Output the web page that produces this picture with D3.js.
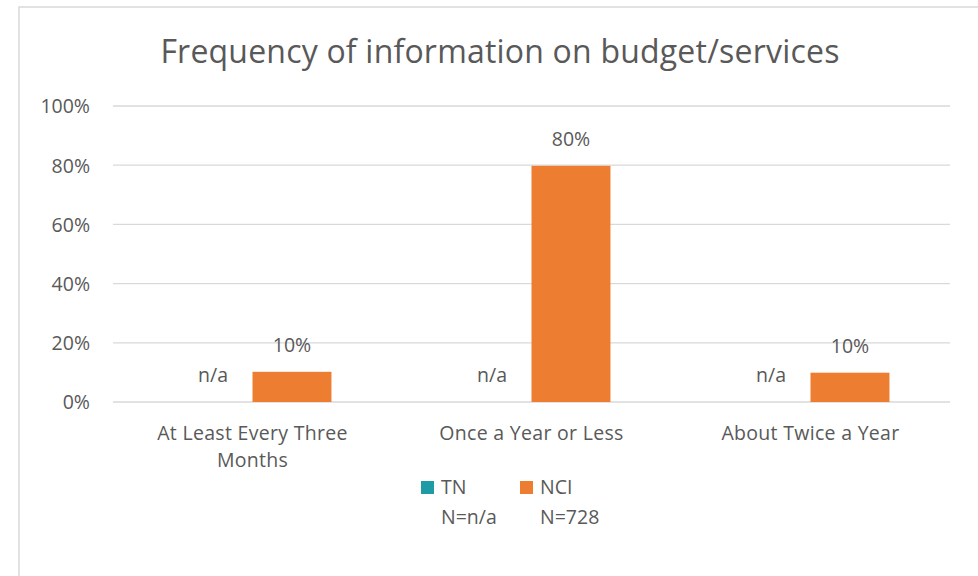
<!DOCTYPE html>
<html>
<head>
<meta charset="utf-8">
<script src="https://cdn.jsdelivr.net/npm/d3@7"></script>
<style>
  body { margin: 0; background: #fff; }
  svg text { font-family: "Open Sans", Lato, sans-serif; fill: #595959; }
</style>
</head>
<body>
<div class="chart"></div>
<script>
// data
const categories = ["At Least Every Three Months", "Once a Year or Less", "About Twice a Year"];
const seriesNames = ["TN", "NCI"];
const seriesN = ["N=n/a", "N=728"];
const tnValues = [null, null, null];          // no data -> "n/a"
const nciValues = [0.102, 0.798, 0.099];
const yTicks = [0, 0.2, 0.4, 0.6, 0.8, 1.0];
const colors = ["#1f9ba6", "#ed7d31"];

const width = 978, height = 576;
const margin = { top: 106, right: 28, bottom: 174, left: 113 };
const fs = "19.5px";
const ls = "0.3px";

const svg = d3.select(".chart").append("svg")
  .attr("width", width)
  .attr("height", height);

// chart area border
svg.append("rect")
  .attr("x", 19).attr("y", 7)
  .attr("width", 1000).attr("height", 600)
  .attr("fill", "none")
  .attr("stroke", "#d9d9d9")
  .attr("stroke-width", 1.5);

svg.append("text")
  .attr("x", 500).attr("y", 63)
  .attr("text-anchor", "middle")
  .style("font-size", "32px")
  .style("letter-spacing", "0.2px")
  .text("Frequency of information on budget/services");

const x = d3.scaleBand()
  .domain(categories)
  .range([margin.left, width - margin.right]);

const y = d3.scaleLinear()
  .domain([0, 1])
  .range([402, margin.top]);

// gridlines
svg.append("g")
  .selectAll("line")
  .data(yTicks)
  .join("line")
  .attr("x1", margin.left).attr("x2", width - margin.right)
  .attr("y1", d => y(d)).attr("y2", d => y(d))
  .attr("stroke", "#d9d9d9")
  .attr("stroke-width", 1.3);

// y axis labels
const yAxis = svg.append("g")
  .attr("transform", `translate(${margin.left - 23},0)`)
  .call(d3.axisLeft(y).tickValues(yTicks).tickFormat(d3.format(".0%")).tickSize(0).tickPadding(0));
yAxis.select(".domain").remove();
yAxis.selectAll("text")
  .attr("dy", "0.35em")
  .style("font-size", fs)
  .style("font-family", "'Open Sans', sans-serif")
  .attr("fill", "#595959");

// bars: group occupies ~57% of band, split in two
const inner = d3.scaleBand()
  .domain(seriesNames)
  .range([0, x.bandwidth() * 0.566])
  .padding(0);
const groupOffset = (x.bandwidth() - inner.range()[1]) / 2;

const rows = categories.map((c, i) => ({ cat: c, vals: [tnValues[i], nciValues[i]] }));

const groups = svg.append("g")
  .selectAll("g")
  .data(rows)
  .join("g")
  .attr("transform", d => `translate(${x(d.cat) + groupOffset},0)`);

groups.selectAll("rect")
  .data(d => d.vals.map((v, j) => ({ v, s: seriesNames[j], j })))
  .join("rect")
  .attr("x", d => inner(d.s))
  .attr("width", inner.bandwidth())
  .attr("y", d => y(d.v || 0))
  .attr("height", d => y(0) - y(d.v || 0))
  .attr("fill", d => colors[d.j]);

groups.selectAll("text.lbl")
  .data(d => d.vals.map((v, j) => ({ v, s: seriesNames[j], j })))
  .join("text")
  .attr("class", "lbl")
  .attr("x", d => inner(d.s) + inner.bandwidth() / 2)
  .attr("y", d => y(d.v || 0) - 20)
  .attr("text-anchor", "middle")
  .style("font-size", fs)
  .text(d => d.v == null ? "n/a" : d3.format(".0%")(d.v));

// category labels with wrapping
const catWrap = {
  "At Least Every Three Months": ["At Least Every Three", "Months"]
};
svg.append("g")
  .selectAll("text")
  .data(categories)
  .join("text")
  .attr("x", d => x(d) + x.bandwidth() / 2)
  .attr("y", 440)
  .attr("text-anchor", "middle")
  .style("font-size", fs)
  .style("letter-spacing", ls)
  .each(function(d) {
    const lines = catWrap[d] || [d];
    d3.select(this).selectAll("tspan")
      .data(lines)
      .join("tspan")
      .attr("x", x(d) + x.bandwidth() / 2)
      .attr("dy", (l, i) => i === 0 ? 0 : 27)
      .text(l => l);
  });

// legend
const legend = svg.append("g")
  .selectAll("g")
  .data(seriesNames)
  .join("g")
  .attr("transform", (d, i) => `translate(${421 + i * 99},481)`);
legend.append("rect")
  .attr("width", 13).attr("height", 13)
  .attr("fill", (d, i) => colors[i]);
legend.append("text")
  .attr("x", 20).attr("y", 12.5)
  .style("font-size", fs)
  .text(d => d);
legend.append("text")
  .attr("x", 20).attr("y", 42.5)
  .style("font-size", fs)
  .text((d, i) => seriesN[i]);
</script>
</body>
</html>
